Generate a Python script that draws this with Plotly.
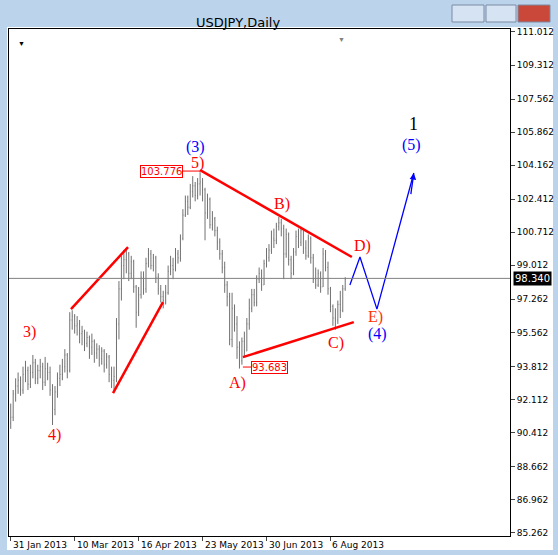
import plotly.graph_objects as go

closes = [91.2, 92.4, 92.8, 93.1, 92.6, 93.4, 93.6, 92.9, 93.5, 94.0, 93.2, 93.6, 93.8, 93.0, 93.7, 93.5, 92.6,
          91.6, 92.5, 93.2, 93.4, 93.8, 94.4, 93.6,
          96.2, 96.4, 95.9, 96.0, 95.5, 95.6, 95.0, 95.3, 94.8, 95.1, 94.5, 94.7, 94.2, 94.6, 93.9, 94.3, 93.4, 93.1,
          93.3, 96.0, 97.8, 99.0, 99.3, 99.6,
          98.6, 99.2, 97.9, 96.6, 97.5, 98.4, 97.8, 99.1, 99.6, 99.0, 99.4, 98.4, 97.8, 97.4, 97.2, 97.6,
          98.7, 99.0, 98.8, 99.6, 99.4, 100.4, 101.6, 102.3, 102.0, 102.8, 103.1, 102.6, 103.2, 103.3,
          102.9, 101.7, 102.4, 101.1, 101.4, 100.8, 100.2, 99.6, 98.9, 98.0, 97.4, 95.2, 96.8, 96.0, 94.8, 94.1,
          95.1, 94.6, 96.0, 96.8, 97.5, 97.1, 98.3, 98.6, 98.0, 99.1, 99.4, 99.8, 100.4, 100.3, 101.0, 101.2,
          100.9, 99.6, 100.6, 99.3, 98.6, 99.7, 100.5, 100.2, 100.8, 99.9, 99.5, 100.4, 99.4, 98.3, 98.0, 98.6, 97.9, 99.6, 98.9, 97.8,
          96.9, 96.3, 96.2, 97.0, 96.7, 97.8, 98.3]
highs = [91.9, 92.6, 93.2, 93.5, 93.3, 93.8, 94.1, 93.8, 93.9, 94.4, 94.2, 93.9, 94.2, 94.0, 94.3, 94.0, 93.8,
         92.9, 92.8, 93.5, 93.9, 94.2, 94.7, 94.5,
         96.6, 96.7, 96.5, 96.4, 96.2, 95.9, 95.7, 95.6, 95.4, 95.5, 95.2, 95.0, 94.9, 94.8, 94.7, 94.5, 94.4, 93.8,
         93.8, 96.3, 98.2, 99.5, 99.8, 99.9,
         99.7, 99.5, 99.3, 98.0, 97.9, 98.7, 98.7, 99.4, 99.9, 99.8, 99.6, 99.5, 98.6, 98.0, 97.7, 98.0,
         99.0, 99.5, 99.4, 99.9, 99.8, 100.6, 101.9, 102.6, 102.6, 103.2, 103.6, 103.3, 103.5, 103.8,
         103.5, 103.0, 102.7, 102.5, 101.8, 101.5, 101.0, 100.4, 99.8, 99.2, 98.2, 97.6, 97.6, 97.0, 96.4, 95.1,
         95.3, 95.6, 96.3, 97.3, 97.8, 97.8, 98.5, 98.9, 98.8, 99.3, 99.9, 100.1, 100.8, 100.9, 101.2, 101.5,
         101.4, 101.1, 100.9, 100.7, 99.5, 99.9, 100.8, 100.9, 100.9, 100.8, 100.3, 100.6, 100.5, 99.6, 98.9, 98.8, 98.7, 99.9, 99.8, 99.2,
         97.9, 97.0, 96.8, 97.2, 97.7, 98.0, 98.4]
lows = [90.6, 91.0, 92.0, 92.4, 92.3, 92.4, 93.0, 92.6, 92.7, 93.2, 92.9, 92.9, 93.2, 92.6, 92.8, 93.1, 92.3,
        90.8, 91.3, 92.2, 92.8, 93.1, 93.5, 93.2,
        93.5, 95.7, 95.5, 95.4, 95.0, 94.9, 94.6, 94.8, 94.2, 94.4, 94.0, 94.2, 93.8, 93.9, 93.5, 93.7, 93.0, 92.7,
        92.6, 93.0, 95.2, 97.2, 98.3, 98.6,
        98.2, 98.3, 97.6, 95.8, 96.4, 97.3, 97.5, 97.6, 98.9, 98.8, 98.7, 98.1, 97.5, 97.1, 96.8, 97.0,
        97.5, 98.5, 98.3, 98.7, 99.1, 99.2, 100.3, 101.5, 101.6, 101.9, 102.5, 102.3, 102.4, 102.6,
        102.3, 100.3, 101.4, 100.9, 100.8, 100.5, 99.8, 99.3, 98.6, 97.6, 96.9, 94.9, 94.8, 95.6, 94.2, 93.7,
        93.9, 94.3, 94.6, 95.7, 96.6, 96.9, 96.9, 98.1, 97.7, 98.0, 98.9, 99.2, 99.6, 99.9, 100.1, 100.8,
        100.5, 98.3, 99.4, 99.0, 98.3, 98.5, 99.5, 99.9, 100.0, 99.6, 99.3, 99.4, 99.1, 98.1, 97.8, 97.9, 97.6, 97.9, 98.7, 97.5,
        96.6, 95.9, 95.7, 96.0, 96.3, 96.6, 97.7]
date_labels = ["31 Jan 2013", "10 Mar 2013", "16 Apr 2013", "23 May 2013", "30 Jun 2013", "6 Aug 2013"]
date_idx = [0, 26, 52, 78, 104, 130]
price_ticks = [111.012, 109.312, 107.562, 105.862, 104.162, 102.412, 100.712, 99.012,
               97.262, 95.562, 93.812, 92.112, 90.412, 88.662, 86.962, 85.262]
last_price = 98.340

opens = [closes[0] - 0.3] + closes[:-1]
hi = [max(h, o, c) for h, o, c in zip(highs, opens, closes)]
lo = [min(l, o, c) for l, o, c in zip(lows, opens, closes)]
idx = list(range(len(closes)))

W, H = 558, 555
L, R, T, B = 9, 48, 29, 19
pw, ph = W - L - R, H - T - B
def px(x): return (x - L) / pw
def py(y): return (H - B - y) / ph

fig = go.Figure()
fig.add_trace(go.Ohlc(x=idx, open=opens, high=hi, low=lo, close=closes,
                      increasing=dict(line=dict(color="#707070", width=1)),
                      decreasing=dict(line=dict(color="#707070", width=1)),
                      tickwidth=0.2, showlegend=False, hoverinfo="skip"))

red = "#ff0000"
blue = "#0000ff"
shapes = []
chrome = "#bcd3ec"
for x0, y0, x1, y1 in [(0, 0, 558, 27), (0, 0, 7, 555), (553, 0, 558, 555), (0, 550, 558, 555)]:
    shapes.append(dict(type="rect", xref="paper", yref="paper", x0=px(x0), x1=px(x1), y0=py(y1), y1=py(y0),
                       fillcolor=chrome, line=dict(width=0), layer="below"))
for x0, x1, col in [(452, 484, "#d6e3f2"), (486, 516, "#d6e3f2"), (518, 550, "#c9483a")]:
    shapes.append(dict(type="rect", xref="paper", yref="paper", x0=px(x0), x1=px(x1), y0=py(22), y1=py(5),
                       fillcolor=col, line=dict(color="#7a8ba3", width=1)))
for (a, b, c, d) in [(24.5, 96.76, 47.7, 99.95), (41.6, 92.44, 61.9, 97.12),
                     (77, 103.91, 138.7, 99.44), (94.4, 94.29, 139.5, 96.09)]:
    shapes.append(dict(type="line", x0=a, y0=b, x1=c, y1=d, line=dict(color=red, width=2.5)))
shapes.append(dict(type="line", x0=-0.7, x1=203, y0=last_price, y1=last_price, line=dict(color="#808080", width=1)))
shapes.append(dict(type="line", x0=69.5, x1=77, y0=103.86, y1=103.86, line=dict(color=red, width=1)))
shapes.append(dict(type="line", x0=94.4, x1=98, y0=93.78, y1=93.78, line=dict(color=red, width=1)))
fig.add_trace(go.Scatter(x=[137.9, 142, 148.9, 163.9], y=[98.0, 99.44, 96.76, 103.76], mode="lines",
                         line=dict(color=blue, width=1.3), showlegend=False, hoverinfo="skip"))

ann = []
def t(x, y, s, col, size=16):
    ann.append(dict(x=x, y=y, text=s, showarrow=False, font=dict(family="Liberation Serif", size=size, color=col)))
t(75.3, 105.1, "(3)", blue)
t(76.1, 104.3, "5)", red)
t(110.3, 102.16, "B)", red)
t(143.2, 100.0, "D)", red)
t(148.5, 96.35, "E)", "#ff3300")
t(149.3, 95.5, "(4)", blue)
t(132.2, 95.0, "C)", red)
t(92.4, 92.96, "A)", red)
t(7.8, 95.6, "3)", red)
t(17.6, 90.3, "4)", red)
t(163.9, 106.3, "1", "black", 18)
t(163.1, 105.2, "(5)", blue)
ann.append(dict(x=163.9, y=103.76, ax=162.6, ay=102.6, axref="x", ayref="y", showarrow=True, arrowhead=2,
                arrowsize=1, arrowwidth=1.3, arrowcolor=blue, text=""))
for x, y, s in [(61.5, 103.86, "103.776"), (105.4, 93.78, "93.683")]:
    ann.append(dict(x=x, y=y, text=s, showarrow=False, bordercolor=red, borderwidth=1, borderpad=0,
                    bgcolor="white", font=dict(family="DejaVu Sans", size=10, color=red)))
for i, s in zip(date_idx, date_labels):
    ann.append(dict(x=i, y=py(545), yref="paper", xanchor="left", yanchor="middle", text=s, showarrow=False,
                    font=dict(family="DejaVu Sans", size=9, color="black")))
ann.append(dict(x=1.005, y=last_price, xref="paper", xanchor="left", text="98.340", showarrow=False,
                bgcolor="black", borderpad=1, font=dict(family="DejaVu Sans", size=10, color="white")))
ann.append(dict(x=px(238), y=py(13), xref="paper", yref="paper", text="USDJPY,Daily", showarrow=False,
                font=dict(family="DejaVu Sans", size=13, color="black")))
ann.append(dict(x=px(16), y=py(37), xref="paper", yref="paper", text="▼", showarrow=False,
                font=dict(size=7, color="black")))
ann.append(dict(x=px(347), y=py(33), xref="paper", yref="paper", text="▼", showarrow=False,
                font=dict(size=7, color="#808080")))

fig.update_layout(width=W, height=H, margin=dict(l=L, r=R, t=T, b=B, autoexpand=False),
                  paper_bgcolor="white", plot_bgcolor="white", shapes=shapes, annotations=ann,
                  xaxis=dict(range=[-0.7, 203], showgrid=False, zeroline=False, rangeslider=dict(visible=False),
                             tickvals=date_idx, ticktext=[""] * len(date_idx), ticks="outside", ticklen=4,
                             showline=True, linecolor="black", mirror=True, linewidth=1, automargin=False),
                  yaxis=dict(range=[85.09, 111.166], side="right", showgrid=False, zeroline=False,
                             tickvals=price_ticks, ticktext=[f"{v:.3f}" for v in price_ticks], automargin=False,
                             ticks="outside", ticklen=4, tickfont=dict(family="DejaVu Sans", size=9, color="black"),
                             showline=True, linecolor="black", mirror=True, linewidth=1))
fig.write_html("out.html", config={"displayModeBar": False})

with open("out.html", encoding="utf-8") as f:
    html = f.read()
html = html.replace("<head>", "<head><style>html,body{margin:0;padding:0;overflow:hidden;}</style>", 1)
with open("out.html", "w", encoding="utf-8") as f:
    f.write(html)
